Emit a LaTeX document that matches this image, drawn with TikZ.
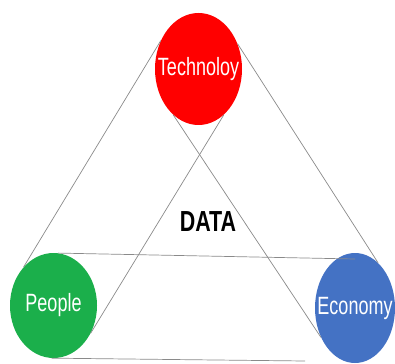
\documentclass[tikz,border=0pt]{standalone}
\usepackage{fontspec}
\setmainfont{Liberation Sans}
\usetikzlibrary{shapes.geometric}
\definecolor{techred}{HTML}{FF0000}
\definecolor{peoplegreen}{HTML}{1BAF4B}
\definecolor{econblue}{HTML}{4472C4}
\definecolor{linkgray}{HTML}{8A8A8A}
\tikzset{
  topic/.style={ellipse, inner sep=0pt, text=white,
    font=\fontsize{25}{25}\selectfont},
  link/.style={draw=linkgray, line width=0.7pt},
}
% condensed label that takes no width, so the ellipse keeps its given size
\newcommand{\narrow}[1]{\makebox[0pt]{\scalebox{0.72}[1]{#1}}}
\begin{document}
\begin{tikzpicture}[x=1pt, y=-1pt]
  \useasboundingbox (0,0) rectangle (395,363);
  % the three topics
  \node[topic, fill=techred, minimum width=87pt, minimum height=112pt] (tech) at (198.5,69) {\narrow{Technoloy}};
  \node[topic, fill=peoplegreen, minimum width=87pt, minimum height=105pt] (people) at (53.5,305.5) {\narrow{People}};
  \node[topic, fill=econblue, minimum width=80pt, minimum height=110pt] (econ) at (355,308) {\narrow{Economy}};
  % centre label
  \node[font=\fontsize{29}{29}\selectfont\bfseries] (data) at (208,222) {\scalebox{0.74}[1]{DATA}};
  % free ends of the horizontal lines
  \coordinate (econtop) at (355,259);
  \coordinate (bottomend) at (305,361);
  % outer triangle
  \draw[link] (tech.143) -- (people.128);
  \draw[link] (tech.33) -- (econ.63);
  % inner crossing lines
  \draw[link] (tech.241) -- (econ.221);
  \draw[link] (tech.299) -- (people.323);
  % horizontal lines
  \draw[link] (people.85) -- (econtop);
  \draw[link] (people.268) -- (bottomend);
\end{tikzpicture}
\end{document}
